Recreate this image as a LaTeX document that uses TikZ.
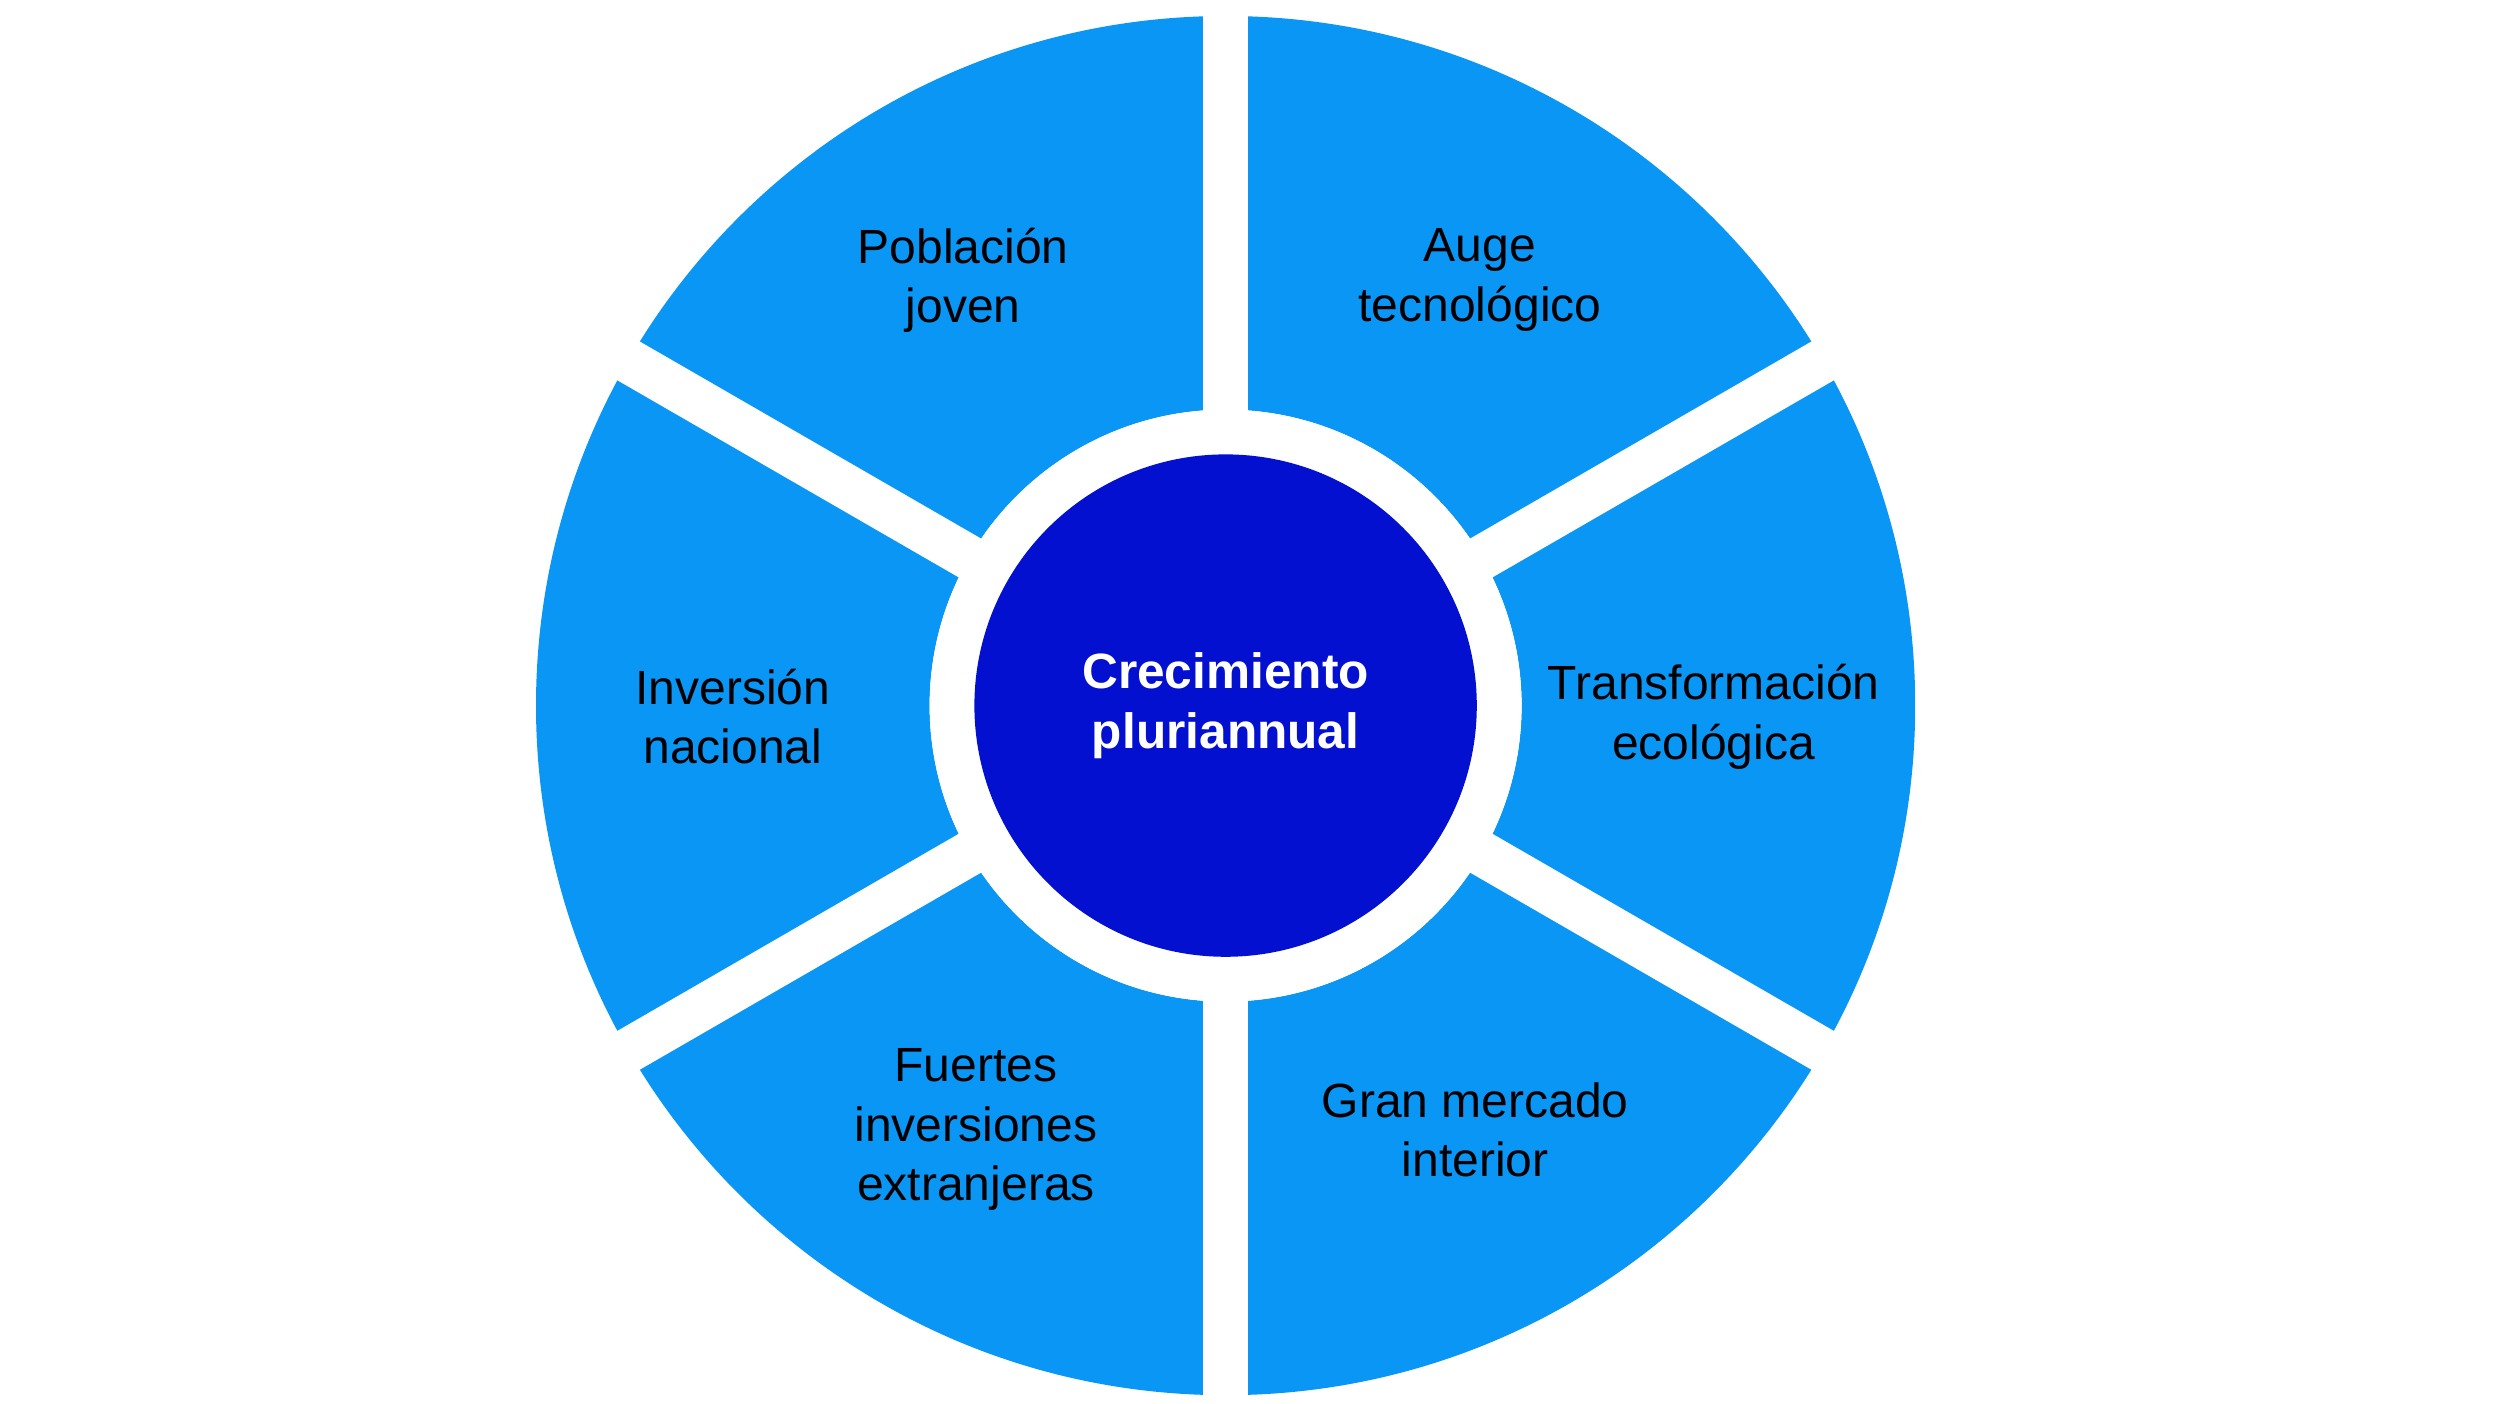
\documentclass[tikz,border=0pt]{standalone}
\usepackage{fontspec}
\setmainfont{Liberation Sans}
\definecolor{lblue}{HTML}{0A96F5}
\definecolor{dblue}{HTML}{0410CF}
\begin{document}
\begin{tikzpicture}[x=0.5pt,y=-0.5pt,
  lab/.style={align=center,font=\fontsize{15}{18.5}\selectfont,text=black},
  sep/.style={white,line width=14pt}]
\useasboundingbox[fill=white] (0,0) rectangle (1560,877);
\coordinate (c) at (766,441);
\fill[lblue,even odd rule] (c) circle[radius=215.5pt] (c) circle[radius=92.5pt];
\foreach \a in {90,30,-30,150,210,270}
  \draw[sep] (c) -- ++(\a:230pt);
\fill[white] (c) circle[radius=92.5pt];
\node[circle,fill=dblue,minimum size=157pt,inner sep=0pt,align=center,text=white,
  font=\bfseries\fontsize{15.5}{18.5}\selectfont] (core) at (c) {Crecimiento\\pluriannual};
\node[lab] (p1) at (602,175) {Población\\joven};
\node[lab] (p2) at (925,175) {Auge\\tecnológico};
\node[lab] (p3) at (458,448) {Inversión\\nacional};
\node[lab] (p4) at (1071,448) {Transformación\\ecológica};
\node[lab] (p5) at (610,706) {Fuertes\\inversiones\\extranjeras};
\node[lab] (p6) at (922,706) {Gran mercado\\interior};
\end{tikzpicture}
\end{document}
